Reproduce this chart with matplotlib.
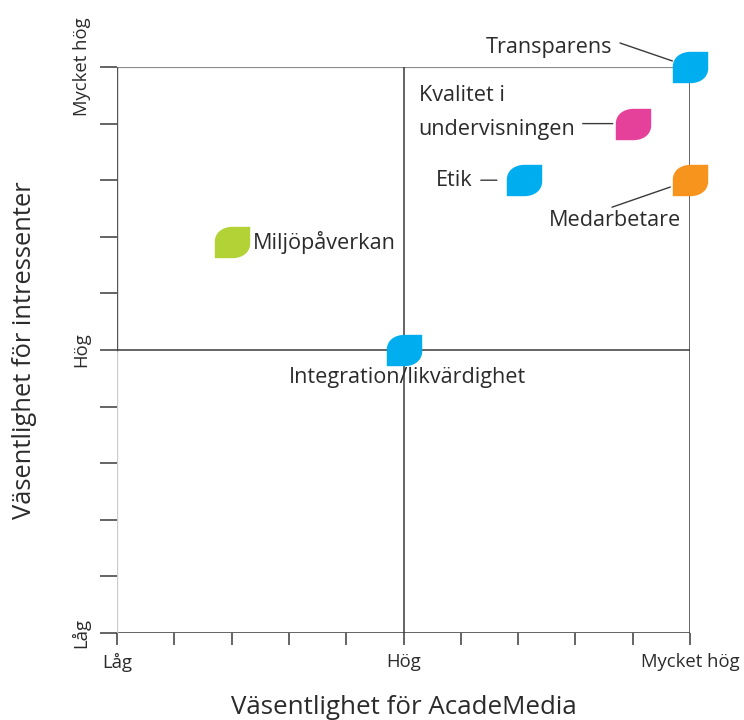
import matplotlib
matplotlib.use("Agg")
import matplotlib.pyplot as plt
from matplotlib.path import Path

plt.rcParams['font.family'] = ['Open Sans', 'DejaVu Sans']

# ---- data ----
topics = ["Transparens", "Kvalitet i\nundervisningen", "Etik", "Medarbetare",
          "Miljöpåverkan", "Integration/likvärdighet"]
academedia = [10, 9, 7.1, 10, 2, 5]      # x: Väsentlighet för AcadeMedia
stakeholders = [10, 9, 8, 8, 6.9, 5]     # y: Väsentlighet för intressenter
colors = ["#00AEEF", "#E5409A", "#00AEEF", "#F7941E", "#B2D235", "#00AEEF"]
level_ticks = [0, 5, 10]
level_labels = ["Låg", "Hög", "Mycket hög"]

# label placement (offset in pixels), alignment, leader line (start offset, shrink)
label_off = [(-78, 20), (-214, 11), (-51, 0), (-75, -40), (21, 0), (4, -28)]
label_ha = ["right", "left", "right", "center", "left", "center"]
leader_start = [(-70, 24), (-50, 0), (-43, 0), (-78, -27), None, None]
leader_shrink = [13.4, 14.4, 19.4, 15, 0, 0]

TXT = "#2b2b2b"
DARK = "#3a3a3a"

# leaf-shaped marker
h = 0.886
verts = [(-1, -h), (-1, 0.05 * h), (-1, 0.62 * h), (-0.58, h), (0.02, h),
         (1, h), (1, -0.05 * h), (1, -0.62 * h), (0.58, -h), (-0.02, -h),
         (-1, -h), (-1, -h)]
codes = [Path.MOVETO, Path.LINETO, Path.CURVE4, Path.CURVE4, Path.CURVE4,
         Path.LINETO, Path.LINETO, Path.CURVE4, Path.CURVE4, Path.CURVE4,
         Path.LINETO, Path.CLOSEPOLY]
leaf = Path(verts, codes)

fig = plt.figure(figsize=(7.44, 7.2), dpi=100)
ax = fig.add_axes([117 / 744, 1 - 633 / 720, (690 - 117) / 744, (633 - 67) / 720])
ax.set_xlim(0, 10)
ax.set_ylim(0, 10)

for s in ["left", "right", "top", "bottom"]:
    ax.spines[s].set_visible(False)

# frame
ax.axhline(10, color="#8a8a8a", lw=1.6, zorder=1)
ax.axvline(10, color=DARK, lw=1.1, zorder=1)
ax.axhline(0, color=DARK, lw=1.1, zorder=1)
ax.axvline(0, ymin=0, ymax=0.5, color="#cccccc", lw=1.0, zorder=1)
ax.axvline(0, ymin=0.5, ymax=1, color="#555555", lw=1.0, zorder=1)
# quadrant cross
ax.axhline(5, color=DARK, lw=1.1, zorder=1)
ax.axvline(5, color=DARK, lw=1.1, zorder=1)

# ticks
ax.set_xticks(range(0, 11))
ax.set_xticklabels([level_labels[level_ticks.index(t)] if t in level_ticks else "" for t in range(11)])
ax.set_yticks(range(0, 11))
ax.set_yticklabels([level_labels[level_ticks.index(t)] if t in level_ticks else "" for t in range(11)],
                   rotation=90, va="center")
ax.tick_params(axis="x", direction="out", length=8.6, width=1.1, color=DARK,
               labelsize=13.3, labelcolor=TXT, pad=6)
ax.tick_params(axis="y", direction="out", length=12, width=1.1, color=DARK,
               labelsize=13.3, labelcolor=TXT, pad=7)

ax.set_xlabel("Väsentlighet för AcadeMedia", fontsize=18.6, color=TXT, labelpad=16)
ax.set_ylabel("Väsentlighet för intressenter", fontsize=18.4, color=TXT, labelpad=25)

# markers
for x, y, c in zip(academedia, stakeholders, colors):
    ax.plot(x, y, marker=leaf, markersize=25.5, color=c, markeredgewidth=0,
            linestyle="none", clip_on=False, zorder=5)

# labels and leader lines
for i, name in enumerate(topics):
    x, y = academedia[i], stakeholders[i]
    ax.annotate(name, xy=(x, y), xytext=label_off[i], textcoords="offset pixels",
                ha=label_ha[i], va="center", fontsize=15.6, color=TXT,
                linespacing=1.78, zorder=6, annotation_clip=False)
    if leader_start[i] is not None:
        ax.annotate("", xy=(x, y), xytext=leader_start[i], textcoords="offset pixels",
                    arrowprops=dict(arrowstyle="-", color=DARK, lw=1.0,
                                    shrinkA=0, shrinkB=leader_shrink[i]),
                    annotation_clip=False, zorder=4)

fig.savefig("out.png", dpi=100)
